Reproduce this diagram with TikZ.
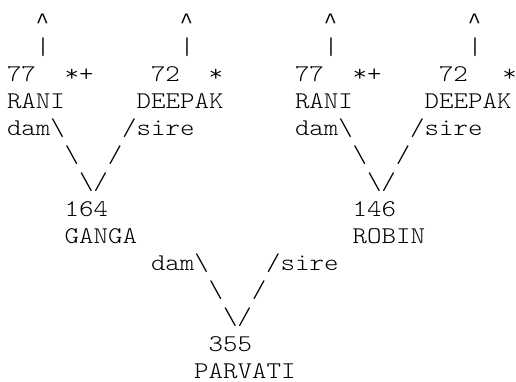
\documentclass[tikz,border=0pt]{standalone}
\usepackage{fontspec}
\newfontfamily\asciifont[FakeStretch=1.15]{lmmonolt10-regular.otf}
\newfontfamily\caretfont{Liberation Mono}
\usepackage{tikz}

\begin{document}
\begin{tikzpicture}[
  x=14.4pt, y=-26.95pt,
  txt/.style={anchor=base west, inner sep=0pt, outer sep=0pt,
              font=\asciifont\fontsize{24}{24}\selectfont, text=black},
  caret/.style={txt, font=\caretfont\fontsize{22}{22}\selectfont},
]
\useasboundingbox (-7pt,28pt) rectangle (509pt,-353pt);

%% LEFT PARENTS -> GANGA
\node[caret] (upA)  at (2,0)  {\textasciicircum};
\node[caret] (upB)  at (12,0) {\textasciicircum};
\node[txt] (barA)   at (2,1)  {|};
\node[txt] (barB)   at (12,1) {|};

\node[txt] (idA)    at (0,2)  {77};
\node[txt] (flagA)  at (4,2)  {*+};
\node[txt] (idB)    at (10,2) {72};
\node[txt] (flagB)  at (14,2) {*};

\node[txt] (raniA)   at (0,3) {RANI};
\node[txt] (deepakA) at (9,3) {DEEPAK};

\node[txt] (damA)   at (0,4) {dam\textbackslash};
\node[txt] (sireA)  at (8,4) {/sire};
\node[txt] (lnA1)   at (4,5) {\textbackslash};
\node[txt] (lnA2)   at (7,5) {/};
\node[txt] (vA)     at (5,6) {\textbackslash/};

\node[txt] (idGanga) at (4,7) {164};
\node[txt] (ganga)   at (4,8) {GANGA};

%% RIGHT PARENTS -> ROBIN
\node[caret] (upC)  at (22,0) {\textasciicircum};
\node[caret] (upD)  at (32,0) {\textasciicircum};
\node[txt] (barC)   at (22,1) {|};
\node[txt] (barD)   at (32,1) {|};

\node[txt] (idC)    at (20,2)   {77};
\node[txt] (flagC)  at (24,2)   {*+};
\node[txt] (idD)    at (30,2)   {72};
\node[txt] (flagD)  at (34.4,2) {*};

\node[txt] (raniB)   at (20,3) {RANI};
\node[txt] (deepakB) at (29,3) {DEEPAK};

\node[txt] (damB)   at (20,4) {dam\textbackslash};
\node[txt] (sireB)  at (28,4) {/sire};
\node[txt] (lnB1)   at (24,5) {\textbackslash};
\node[txt] (lnB2)   at (27,5) {/};
\node[txt] (vB)     at (25,6) {\textbackslash/};

\node[txt] (idRobin) at (24,7) {146};
\node[txt] (robin)   at (24,8) {ROBIN};

%% OFFSPRING -> PARVATI
\node[txt] (damC)   at (10,9)  {dam\textbackslash};
\node[txt] (sireC)  at (18,9)  {/sire};
\node[txt] (lnC1)   at (14,10) {\textbackslash};
\node[txt] (lnC2)   at (17,10) {/};
\node[txt] (vC)     at (15,11) {\textbackslash/};

\node[txt] (idParvati) at (14,12) {355};
\node[txt] (parvati)   at (13,13) {PARVATI};

\end{tikzpicture}
\end{document}
